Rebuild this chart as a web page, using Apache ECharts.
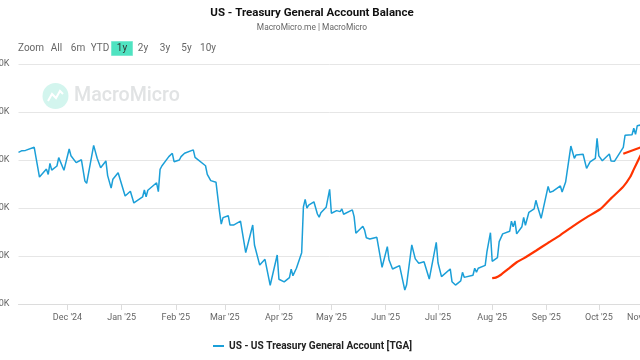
<!DOCTYPE html>
<html>
<head>
<meta charset="utf-8">
<title>US - Treasury General Account Balance</title>
<script src="https://cdn.jsdelivr.net/npm/echarts@6/dist/echarts.min.js"></script>
<style>
html, body { margin: 0; padding: 0; background: #fff; overflow: hidden; }
#picture1 { width: 640px; height: 360px; }
</style>
</head>
<body>
<div id="picture1"></div>
<script>
var tgaDates = [
    '2024-11-03','2024-11-05','2024-11-07','2024-11-08','2024-11-12','2024-11-13','2024-11-14','2024-11-15','2024-11-19','2024-11-20',
    '2024-11-21','2024-11-22','2024-11-25','2024-11-26','2024-11-29','2024-12-02','2024-12-03','2024-12-04','2024-12-06','2024-12-09',
    '2024-12-11','2024-12-12','2024-12-16','2024-12-18','2024-12-20','2024-12-23','2024-12-24','2024-12-26','2024-12-27','2024-12-30',
    '2025-01-03','2025-01-06','2025-01-08','2025-01-13','2025-01-14','2025-01-15','2025-01-16','2025-01-17','2025-01-21','2025-01-22',
    '2025-01-23','2025-01-24','2025-01-28','2025-01-29','2025-01-30','2025-01-31','2025-02-03','2025-02-04','2025-02-06','2025-02-07',
    '2025-02-11','2025-02-12','2025-02-13','2025-02-18','2025-02-19','2025-02-21','2025-02-24','2025-02-26','2025-02-27','2025-02-28',
    '2025-03-03','2025-03-04','2025-03-05','2025-03-06','2025-03-07','2025-03-10','2025-03-13','2025-03-14','2025-03-17','2025-03-18',
    '2025-03-21','2025-03-24','2025-03-27','2025-03-31','2025-04-01','2025-04-02','2025-04-04','2025-04-07','2025-04-08','2025-04-09',
    '2025-04-10','2025-04-11','2025-04-14','2025-04-15','2025-04-16','2025-04-17','2025-04-18','2025-04-21','2025-04-23','2025-04-24',
    '2025-04-25','2025-04-28','2025-04-30','2025-05-01','2025-05-04','2025-05-06','2025-05-07','2025-05-08','2025-05-09','2025-05-13',
    '2025-05-14','2025-05-15','2025-05-19','2025-05-20','2025-05-21','2025-05-23','2025-05-27','2025-05-30','2025-06-02','2025-06-03',
    '2025-06-04','2025-06-05','2025-06-06','2025-06-09','2025-06-12','2025-06-13','2025-06-16','2025-06-18','2025-06-20','2025-06-23',
    '2025-06-26','2025-06-30','2025-07-01','2025-07-02','2025-07-03','2025-07-08','2025-07-09','2025-07-11','2025-07-14','2025-07-15',
    '2025-07-16','2025-07-21','2025-07-22','2025-07-23','2025-07-24','2025-07-25','2025-07-28','2025-07-29','2025-07-30','2025-07-31',
    '2025-08-01','2025-08-04','2025-08-05','2025-08-06','2025-08-07','2025-08-11','2025-08-12','2025-08-13','2025-08-14','2025-08-15',
    '2025-08-18','2025-08-19','2025-08-20','2025-08-22','2025-08-25','2025-08-26','2025-08-27','2025-08-28','2025-08-29','2025-09-02',
    '2025-09-03','2025-09-05','2025-09-09','2025-09-10','2025-09-12','2025-09-15','2025-09-17','2025-09-18','2025-09-22','2025-09-24',
    '2025-09-25','2025-09-26','2025-09-29','2025-09-30','2025-10-01','2025-10-02','2025-10-03','2025-10-07','2025-10-08','2025-10-10',
    '2025-10-15','2025-10-16','2025-10-20','2025-10-21','2025-10-22','2025-10-23','2025-10-25'
];
var tgaValues = [
    832,839,840,832,853,811,817,729,762,740,
    786,758,775,810,757,846,818,814,789,801,
    712,703,861,807,768,796,735,683,720,747,
    650,670,621,646,675,647,674,671,705,668,
    761,775,814,814,828,793,800,814,828,825,
    842,811,807,776,740,714,707,585,533,560,
    568,529,522,529,522,545,414,414,529,446,
    362,386,278,404,303,301,292,310,345,318,
    317,349,414,605,636,600,612,626,575,562,
    580,603,678,578,589,585,596,574,575,592,
    564,495,524,508,476,471,478,353,439,383,
    376,346,342,360,258,279,446,388,370,376,
    304,457,372,374,314,346,293,279,296,332,
    311,320,349,332,349,349,361,418,421,497,
    378,393,460,465,492,503,545,522,546,492,
    522,561,528,582,596,632,605,612,557,690,
    665,671,692,667,708,858,807,821,824,765,
    758,792,807,890,817,824,797,825,796,795,
    853,903,905,932,907,943,946
];
var trendDates = [
    '2025-08-01','2025-08-03','2025-08-06','2025-08-10','2025-08-15','2025-08-19','2025-08-26','2025-09-02','2025-09-09',
    '2025-09-18','2025-09-24','2025-10-02','2025-10-08','2025-10-15','2025-10-19','2025-10-21','2025-10-25'
];
var trendValues = [308,310,322,345,374,390,422,455,487,533,561,596,640,689,730,761,821];
var trendTailDates = ['2025-10-15','2025-10-25'];
var trendTailValues = [826,853];
var monthTicks = ['2024-12-01','2025-01-01','2025-02-01','2025-03-01','2025-04-01','2025-05-01','2025-06-01','2025-07-01','2025-08-01','2025-09-01','2025-10-01','2025-11-01'];
var monthLabels = ["Dec '24","Jan '25","Feb '25","Mar '25","Apr '25","May '25","Jun '25","Jul '25","Aug '25","Sep '25","Oct '25","Nov '25"];
var rangeButtons = ['All','6m','YTD','1y','2y','3y','5y','10y'];

var FONT = 'Roboto, "Noto Sans", sans-serif';

function toTime(s) {
    return echarts.time.parse(s).getTime();
}

function pairs(dates, values) {
    return dates.map(function (d, i) { return [toTime(d), values[i]]; });
}

function picture(obj) {
    var monthTimes = monthTicks.map(toTime);
    var buttonX = [56.5, 78, 100, 122, 143, 165, 186.5, 208];
    var graphics = [
        // watermark
        { type: 'circle', shape: { cx: 55.5, cy: 96, r: 13 }, style: { fill: '#d3f5ee' }, silent: true, z: 0 },
        { type: 'polyline', shape: { points: [[48, 101], [52, 94], [56, 98], [60, 91], [63, 94]] }, style: { stroke: '#fff', lineWidth: 2, fill: null }, silent: true, z: 0 },
        { type: 'text', x: 74, y: 96, style: { text: 'MacroMicro', font: '500 19.6px ' + FONT, fill: '#e1e3e4', textVerticalAlign: 'middle' }, silent: true, z: 0 },
        // range selector
        { type: 'rect', shape: { x: 111.5, y: 41.5, width: 21, height: 14 }, style: { fill: '#4fe3c1', stroke: '#7eead2', lineWidth: 1 }, z: 1 },
        { type: 'text', x: 18, y: 48, style: { text: 'Zoom', font: '10px ' + FONT, fill: '#666', textVerticalAlign: 'middle' }, z: 2 }
    ];
    rangeButtons.forEach(function (label, i) {
        graphics.push({
            type: 'text', x: buttonX[i], y: 48, z: 2,
            style: { text: label, font: '10px ' + FONT, fill: label == '1y' ? '#333' : '#666', textAlign: 'center', textVerticalAlign: 'middle' }
        });
    });

    var option = {
        animation: false,
        title: {
            text: 'US - Treasury General Account Balance',
            subtext: 'MacroMicro.me | MacroMicro',
            left: 307,
            textAlign: 'center',
            top: 2,
            itemGap: 5,
            textStyle: { fontFamily: FONT, fontSize: 11.5, fontWeight: 'bold', color: '#111' },
            subtextStyle: { fontFamily: FONT, fontSize: 8.4, color: '#666' }
        },
        legend: {
            data: [{ name: 'US - US Treasury General Account [TGA]' }],
            left: 208,
            top: 336,
            itemWidth: 11,
            itemHeight: 2,
            itemGap: 3,
            icon: 'rect',
            selectedMode: false,
            textStyle: { fontFamily: FONT, fontSize: 10.1, fontWeight: 'bold', color: '#222' }
        },
        grid: { left: 18.5, right: -20, top: 64, bottom: 56, outerBoundsMode: 'none' },
        xAxis: {
            type: 'value',
            min: toTime('2024-11-03'),
            max: toTime('2025-11-05'),
            axisLine: { lineStyle: { color: '#dcdcdc', width: 1 } },
            axisTick: { show: true, length: 6, customValues: monthTimes, lineStyle: { color: '#dcdcdc' } },
            axisLabel: {
                customValues: monthTimes,
                fontFamily: FONT, fontSize: 9, color: '#666', margin: 9,
                rich: {
                    // last label sits left of its tick in the original
                    last: { fontFamily: FONT, fontSize: 9, color: '#666', padding: [0, 22, 0, 0] }
                },
                formatter: function (value) {
                    var i = monthTimes.indexOf(value);
                    if (i == monthTimes.length - 1) {
                        return '{last|' + monthLabels[i] + '}';
                    }
                    return monthLabels[i] || '';
                }
            },
            splitLine: { show: false }
        },
        yAxis: {
            type: 'value',
            min: 200,
            max: 1200,
            interval: 200,
            axisLine: { show: false },
            axisTick: { show: false },
            axisLabel: {
                fontFamily: FONT, fontSize: 9, color: '#666', margin: 9,
                formatter: function (value) {
                    return value >= 1000 ? '1,' + String(value).slice(1) + 'K' : value + 'K';
                }
            },
            splitLine: { lineStyle: { color: '#e6e6e6', width: 1 } }
        },
        series: [
            {
                name: 'US - US Treasury General Account [TGA]',
                type: 'line',
                data: pairs(tgaDates, tgaValues),
                showSymbol: false,
                itemStyle: { color: '#1b9fd8' },
                lineStyle: { color: '#1b9fd8', width: 1.5 },
                z: 3
            },
            {
                name: 'Trend',
                type: 'line',
                data: pairs(trendDates, trendValues),
                showSymbol: false,
                smooth: 0.2,
                itemStyle: { color: '#ff3300' },
                lineStyle: { color: '#ff3300', width: 2.2 },
                z: 4
            },
            {
                name: 'Trend tail',
                type: 'line',
                data: pairs(trendTailDates, trendTailValues),
                showSymbol: false,
                itemStyle: { color: '#ff3300' },
                lineStyle: { color: '#ff3300', width: 2.2 },
                z: 4
            }
        ],
        graphic: graphics
    };
    obj.setOption(option);
}

var myChart1 = echarts.init(document.getElementById('picture1'), null, { renderer: 'canvas' });
picture(myChart1);
</script>
</body>
</html>
